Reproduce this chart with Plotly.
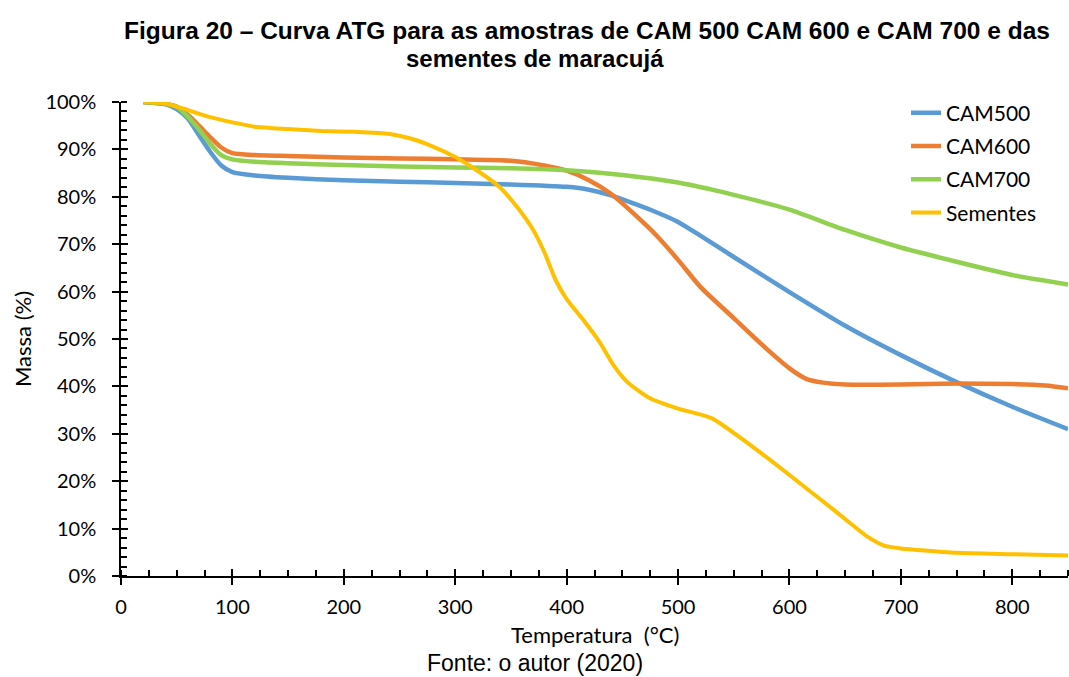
import plotly.graph_objects as go

# ---- data ----
t_cam500 = [20, 40, 50, 60, 70, 80, 90, 100, 120, 150, 200, 250, 300, 350, 400, 420, 440,
            460, 480, 500, 520, 550, 600, 650, 700, 750, 800, 850]
m_cam500 = [100, 99.5, 98.5, 96.5, 93.0, 89.5, 86.6, 85.2, 84.5, 84.0, 83.5, 83.2, 82.9, 82.6,
            82.1, 81.5, 80.3, 78.6, 76.8, 74.7, 71.8, 67.3, 59.9, 52.8, 46.6, 40.9, 35.7, 31.0]

t_cam600 = [20, 40, 50, 60, 70, 80, 90, 100, 120, 150, 200, 250, 300, 350, 380, 400, 420,
            440, 460, 480, 500, 520, 550, 580, 600, 615, 630, 650, 700, 750, 800, 830, 850]
m_cam600 = [100, 99.6, 99.0, 97.3, 95.0, 92.6, 90.4, 89.2, 88.8, 88.6, 88.3, 88.1, 87.9, 87.6,
            86.6, 85.5, 83.5, 80.6, 76.5, 72.0, 66.7, 61.0, 54.4, 47.8, 43.8, 41.6, 40.8, 40.4,
            40.4, 40.6, 40.5, 40.2, 39.6]

t_cam700 = [20, 40, 50, 60, 70, 80, 90, 100, 120, 150, 200, 250, 300, 350, 400, 450, 500,
            550, 600, 650, 700, 750, 800, 850]
m_cam700 = [100, 99.6, 99.0, 96.9, 94.2, 91.2, 88.8, 87.9, 87.4, 87.1, 86.7, 86.4, 86.2, 86.0,
            85.6, 84.6, 83.0, 80.4, 77.3, 73.0, 69.3, 66.3, 63.5, 61.5]

t_sem = [20, 40, 60, 80, 100, 120, 150, 180, 210, 240, 260, 280, 300, 320, 340, 355, 370, 380,
         390, 400, 415, 430, 442, 455, 475, 500, 530, 565, 600, 640, 670, 685, 700, 715, 750,
         800, 850]
m_sem = [100, 99.7, 98.3, 96.8, 95.7, 94.8, 94.3, 93.9, 93.7, 93.3, 92.3, 90.6, 88.4, 85.5,
         82.0, 78.0, 73.0, 68.3, 62.5, 58.4, 54.0, 49.2, 44.5, 40.8, 37.5, 35.3, 33.3, 27.6,
         21.3, 13.9, 8.3, 6.4, 5.8, 5.5, 4.9, 4.6, 4.3]

series = [
    ("CAM500", t_cam500, m_cam500, "#5B9BD5", 4.5),
    ("CAM600", t_cam600, m_cam600, "#ED7D31", 4.5),
    ("CAM700", t_cam700, m_cam700, "#92D050", 4.5),
    ("Sementes", t_sem, m_sem, "#FFC000", 4),
]

x_ticks = [0, 100, 200, 300, 400, 500, 600, 700, 800]
y_ticks = [0, 10, 20, 30, 40, 50, 60, 70, 80, 90, 100]
y_tick_text = [f"{v}%" for v in y_ticks]

FONT = "Lato, 'Open Sans', sans-serif"
ARIAL = "'Liberation Sans', Arial, sans-serif"

fig = go.Figure()
for name, t, m, color, w in series:
    fig.add_trace(go.Scatter(x=t, y=m, name=name, mode="lines", legendgroup=name,
                             line=dict(color=color, width=w, shape="spline", smoothing=0.6)))

# empty trace for overlay axes (inside half of crossing major ticks)
fig.add_trace(go.Scatter(x=[], y=[], xaxis="x2", yaxis="y2", showlegend=False,
                         hoverinfo="skip"))

PX_L, PX_W = 121, 947

def px_to_paper(px):
    return (px - PX_L) / PX_W

fig.update_layout(
    width=1069, height=677,
    margin=dict(l=121, r=1, t=102, b=101),
    paper_bgcolor="white", plot_bgcolor="white",
    font=dict(family=FONT, size=20, color="#000000"),
    showlegend=True,
    legend=dict(x=px_to_paper(906), y=1.02, xanchor="left", yanchor="top",
                bgcolor="rgba(0,0,0,0)", font=dict(family=FONT, size=21),
                traceorder="grouped", tracegroupgap=3),
    xaxis=dict(range=[0, 850], tickvals=x_ticks, ticks="outside", ticklen=7,
               tickwidth=1.5, tickcolor="black", showline=True, linecolor="black",
               linewidth=1.5, showgrid=False, zeroline=False, ticklabelstandoff=5,
               minor=dict(dtick=25, tick0=0, ticks="inside", ticklen=6, tickwidth=1.5,
                          tickcolor="black", showgrid=False),
               tickfont=dict(family=FONT, size=20)),
    yaxis=dict(range=[0, 100], tickvals=y_ticks, ticktext=y_tick_text, ticks="outside",
               ticklen=7, tickwidth=1.5, tickcolor="black", showline=True,
               linecolor="black", linewidth=1.5, showgrid=False, zeroline=False,
               ticklabelstandoff=12,
               minor=dict(dtick=2, tick0=0, ticks="inside", ticklen=6, tickwidth=1.5,
                          tickcolor="black", showgrid=False),
               tickfont=dict(family=FONT, size=20)),
    xaxis2=dict(range=[0, 850], overlaying="x", anchor="y2", side="bottom",
                tickvals=x_ticks, ticks="inside", ticklen=7, tickwidth=1.5,
                tickcolor="black", showticklabels=False, showline=False,
                showgrid=False, zeroline=False),
    yaxis2=dict(range=[0, 100], overlaying="y", anchor="x2", side="left",
                tickvals=y_ticks, ticks="inside", ticklen=7, tickwidth=1.5,
                tickcolor="black", showticklabels=False, showline=False,
                showgrid=False, zeroline=False),
    annotations=[
        dict(text="<b>Figura 20 – Curva ATG para as amostras de CAM 500 CAM 600 e CAM 700 e das</b>",
             xref="paper", yref="paper", x=px_to_paper(587), y=1, xanchor="center",
             yanchor="middle", yshift=72, showarrow=False,
             font=dict(family=ARIAL, size=24.5, color="black")),
        dict(text="<b>sementes de maracujá</b>",
             xref="paper", yref="paper", x=px_to_paper(534.5), y=1, xanchor="center",
             yanchor="middle", yshift=44, showarrow=False,
             font=dict(family=ARIAL, size=24, color="black")),
        dict(text="Temperatura&nbsp; (°C)", xref="paper", yref="paper", x=0.5, y=0,
             xanchor="center", yanchor="middle", yshift=-58, showarrow=False,
             font=dict(family=FONT, size=22, color="black")),
        dict(text="Massa (%)", xref="paper", yref="paper", x=0, y=0.5, textangle=-90,
             xanchor="center", yanchor="middle", xshift=-99, showarrow=False,
             font=dict(family=FONT, size=22, color="black")),
        dict(text="Fonte: o autor (2020)", xref="paper", yref="paper",
             x=px_to_paper(534.5), y=0, xanchor="center", yanchor="middle", yshift=-87,
             showarrow=False, font=dict(family=ARIAL, size=23, color="black")),
    ],
)

fig.write_html("out.html")
